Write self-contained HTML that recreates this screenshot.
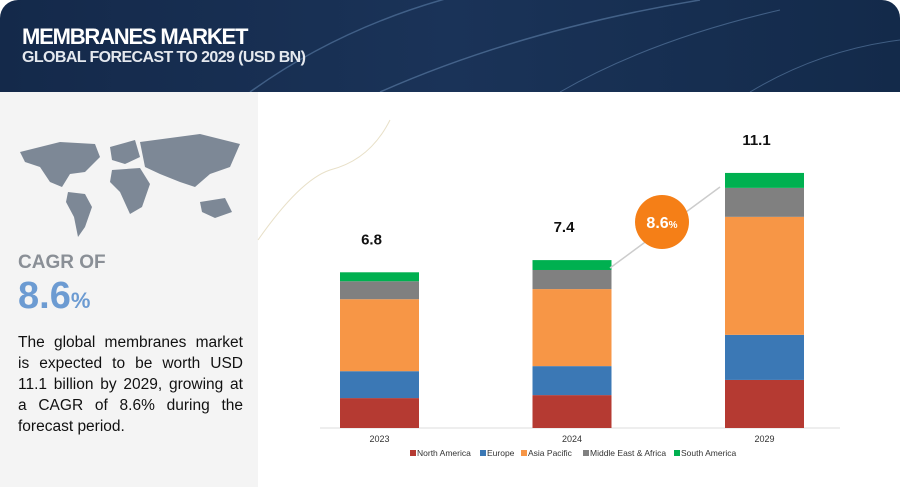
<!DOCTYPE html>
<html><head><meta charset="utf-8"><style>
body{margin:0;width:900px;height:487px;overflow:hidden;background:#fff;font-family:"Liberation Sans",sans-serif;}
#hdr{position:absolute;left:0;top:0;width:900px;height:92px;background:linear-gradient(90deg,#14294a,#1a3358 50%,#132a4a);border-radius:18px 18px 0 0;overflow:hidden}
#left{position:absolute;left:0;top:92px;width:258px;height:395px;background:#f4f4f4}
</style></head><body>
<div id="hdr">
<svg width="900" height="92" style="position:absolute;left:0;top:0">
<path d="M250 92 Q350 20 480 -10" stroke="#5b7fa8" stroke-width="1.5" fill="none" opacity=".6"/>
<path d="M380 92 Q520 30 700 0" stroke="#6e92bb" stroke-width="1.5" fill="none" opacity=".5"/>
<path d="M560 92 Q650 40 780 10" stroke="#6e92bb" stroke-width="1" fill="none" opacity=".5"/>
<path d="M750 92 Q820 50 900 40" stroke="#6e92bb" stroke-width="1" fill="none" opacity=".5"/>
</svg>
<div style="position:absolute;left:22px;top:24px;color:#fff;font-weight:bold;font-size:22px;letter-spacing:-1.2px">MEMBRANES MARKET</div>
<div style="position:absolute;left:22px;top:49px;color:#e4e8ee;font-size:16px;font-weight:bold;letter-spacing:-0.6px">GLOBAL FORECAST TO 2029 (USD BN)</div>
</div>
<div id="left">
<svg width="258" height="140" style="position:absolute;left:0;top:20px">
<g fill="#7d8896">
<path d="M20 40 L60 30 L95 32 L100 45 L85 60 L70 62 L62 75 L50 70 L40 55 L25 50Z"/>
<path d="M68 80 L85 82 L92 95 L85 115 L78 125 L74 105 L66 90Z"/>
<path d="M110 35 L135 28 L140 45 L125 52 L112 48Z"/>
<path d="M112 58 L140 56 L150 72 L142 95 L130 102 L120 80 L110 70Z"/>
<path d="M140 30 L200 22 L240 32 L230 55 L210 62 L195 75 L180 70 L160 62 L145 55Z"/>
<path d="M200 90 L225 86 L232 100 L215 106 L202 100Z"/>
</g></svg>
<div style="position:absolute;left:18px;top:160px;color:#8a8f96;font-size:19px;font-weight:bold">CAGR OF</div>
<div style="position:absolute;left:18px;top:183px;color:#6c9bd2;font-size:38px;font-weight:bold">8.6<span style="font-size:22px">%</span></div>
<div style="position:absolute;left:18px;top:240px;width:225px;color:#111;font-size:15.5px;line-height:21px;text-align:justify">The global membranes market is expected to be worth USD 11.1 billion by 2029, growing at a CAGR of 8.6% during the forecast period.</div>
</div>
<svg id="chart" width="900" height="487" style="position:absolute;left:0;top:0">
<path d="M258 240 Q300 180 330 170 Q370 160 390 120" stroke="#e8e0c8" fill="none"/>
</svg>
<script>
const years=["2023","2024","2029"];
const totals=["6.8","7.4","11.1"];
const seriesNames=["North America","Europe","Asia Pacific","Middle East & Africa","South America"];
const northAmerica=[1.3,1.43,2.09];
const europe=[1.17,1.26,1.96];
const asiaPacific=[3.13,3.35,5.13];
const middleEastAfrica=[0.78,0.83,1.26];
const southAmerica=[0.39,0.43,0.65];
const colors=["#b53a32","#3b78b5","#f79646","#808080","#00b050"];
const series=[northAmerica,europe,asiaPacific,middleEastAfrica,southAmerica];
const svg=document.getElementById('chart');
const NS='http://www.w3.org/2000/svg';
const base=428,k=23,x0=340,step=192.5,bw=79;
const xs=i=>x0+i*step;
const ys=v=>base-v*k;
function mk(t,a){const e=document.createElementNS(NS,t);for(const n in a)e.setAttribute(n,a[n]);svg.appendChild(e);return e;}
const axis=mk('line',{x1:320,x2:840,y1:base,y2:base,stroke:'#ddd'});


years.forEach((y,i)=>{
 let cum=0;
 series.forEach((s,j)=>{
  const r=mk('rect',{x:xs(i),y:ys(cum+s[i]),width:bw,height:s[i]*k,fill:colors[j]});
  
  
  cum+=s[i];
 });
 const t=mk('text',{x:xs(i)+bw/2,y:442,'text-anchor':'middle','font-size':9,fill:'#333'});t.textContent=y;
 
 
 const v=mk('text',{x:xs(i)+bw/2-8,y:ys(cum)-28,'text-anchor':'middle','font-size':15,'font-weight':'bold',fill:'#111'});v.textContent=totals[i];
 
 
});
const ar=mk('line',{x1:610,y1:268,x2:720,y2:187,stroke:'#ccc','stroke-width':1.5});


const c=mk('circle',{cx:662,cy:222,r:27,fill:'#f57f17'});


const ct=mk('text',{x:662,y:228,'text-anchor':'middle','font-size':16,'font-weight':'bold',fill:'#fff'});
ct.innerHTML='8.6<tspan font-size="10">%</tspan>';


const legendX=[410,480,521,583,674];
seriesNames.forEach((n,j)=>{
 const lx=legendX[j];
 const r=mk('rect',{x:lx,y:450,width:6,height:6,fill:colors[j]});
 
 
 const t=mk('text',{x:lx+7,y:456,'font-size':8.5,fill:'#333'});t.textContent=n;
 
 
});
</script>
</body></html>
